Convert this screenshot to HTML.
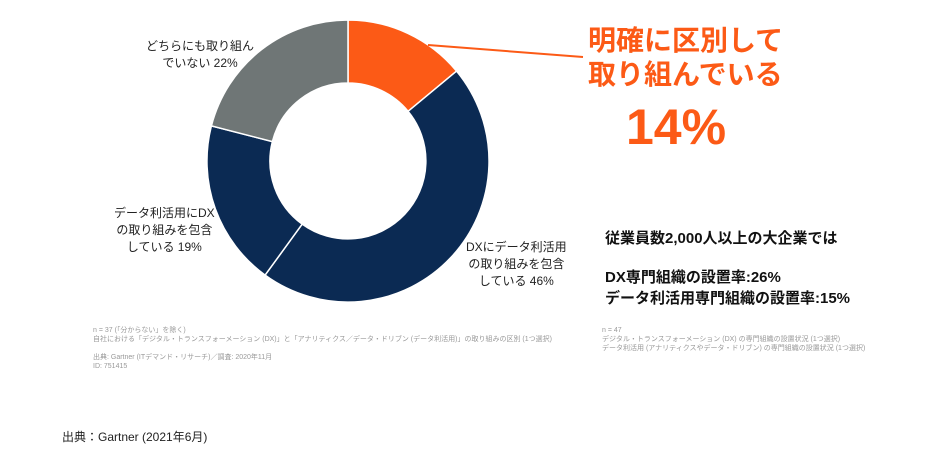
<!DOCTYPE html>
<html><head><meta charset="utf-8"><style>
body{margin:0;background:#fff;width:944px;height:465px;overflow:hidden;font-family:"Liberation Sans","Noto Sans CJK JP",sans-serif;position:relative}
.t{position:absolute;white-space:nowrap;color:#222}
.s{font-size:7px;color:#999;line-height:9px}
</style></head><body>
<svg width="944" height="465" style="position:absolute;left:0;top:0">
<path d="M348,20 A141,141 0 0 1 456.6,71.1 L408.1,111.3 A78,78 0 0 0 348,83 Z" fill="#fc5a16" stroke="#fff" stroke-width="1.5"/>
<path d="M456.6,71.1 A141,141 0 0 1 265.1,275.1 L302.2,224.1 A78,78 0 0 0 408.1,111.3 Z" fill="#0b2a53" stroke="#fff" stroke-width="1.5"/>
<path d="M265.1,275.1 A141,141 0 0 1 211.4,125.9 L272.4,141.6 A78,78 0 0 0 302.2,224.1 Z" fill="#0b2a53" stroke="#fff" stroke-width="1.5"/>
<path d="M211.4,125.9 A141,141 0 0 1 348,20 L348,83 A78,78 0 0 0 272.4,141.6 Z" fill="#6f7676" stroke="#fff" stroke-width="1.5"/>
<line x1="428" y1="45" x2="583" y2="57" stroke="#fc5a16" stroke-width="2"/>
</svg>
<div class="t" style="left:588px;top:24px;font-size:28px;font-weight:bold;color:#fc5a16;line-height:34px">明確に区別して<br>取り組んでいる</div>
<div class="t" style="left:626px;top:98px;font-size:50px;font-weight:bold;color:#fc5a16">14%</div>
<div class="t" style="left:146px;top:38px;font-size:12px;line-height:17px;text-align:center">どちらにも取り組ん<br>でいない 22%</div>
<div class="t" style="left:114px;top:205px;font-size:12px;line-height:17px;text-align:center">データ利活用にDX<br>の取り組みを包含<br>している 19%</div>
<div class="t" style="left:466px;top:239px;font-size:12px;line-height:17px;text-align:center">DXにデータ利活用<br>の取り組みを包含<br>している 46%</div>
<div class="t" style="left:605px;top:227px;font-size:15px;font-weight:bold;color:#111">従業員数2,000人以上の大企業では</div>
<div class="t" style="left:605px;top:267px;font-size:15px;font-weight:bold;color:#111;line-height:21px">DX専門組織の設置率:26%<br>データ利活用専門組織の設置率:15%</div>
<div class="t s" style="left:93px;top:326px">n = 37 (「分からない」を除く)<br>自社における「デジタル・トランスフォーメーション (DX)」と「アナリティクス／データ・ドリブン (データ利活用)」の取り組みの区別 (1つ選択)<br><br>出典: Gartner (ITデマンド・リサーチ)／調査: 2020年11月<br>ID: 751415</div>
<div class="t s" style="left:602px;top:326px">n = 47<br>デジタル・トランスフォーメーション (DX) の専門組織の設置状況 (1つ選択)<br>データ利活用 (アナリティクスやデータ・ドリブン) の専門組織の設置状況 (1つ選択)</div>
<div class="t" style="left:62px;top:428px;font-size:12px;color:#222">出典：Gartner (2021年6月)</div>
</body></html>
